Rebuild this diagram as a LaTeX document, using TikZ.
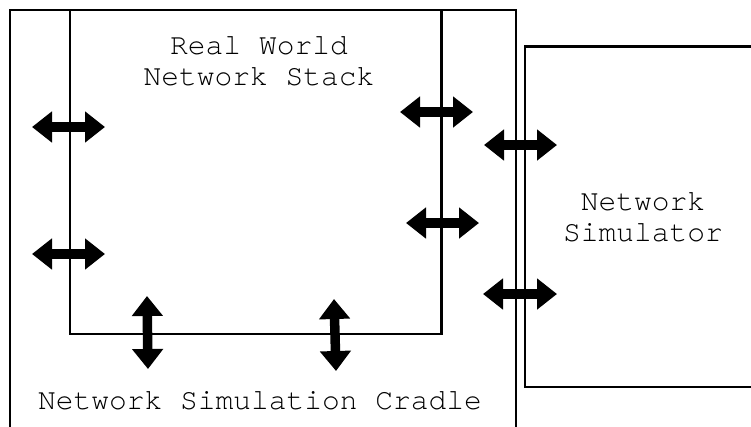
\documentclass[tikz,border=0pt]{standalone}
\usepackage{fontspec}
\setmonofont{TeX Gyre Cursor}
\usetikzlibrary{arrows.meta}
\begin{document}
\begin{tikzpicture}[x=1pt,y=-1pt,
  frame/.style={line width=2.4pt,line join=miter},
  label/.style={font=\ttfamily\fontsize{29.6}{31}\selectfont,inner sep=0pt,align=center},
  link/.style={line width=9.5pt,{Triangle[length=20pt,width=30pt]}-{Triangle[length=20pt,width=30pt]}}]
\useasboundingbox (0,0) rectangle (751,426);
\fill[white] (0,0) rectangle (751,426);

% cradle (open at the bottom), stack inside it, simulator to the right
\draw[frame] (10,430) -- (10,10) -- (516,10) -- (516,430);
\draw[frame] (70,10) -- (70,334) -- (441.5,334) -- (441.5,10);
\draw[frame] (770,46.5) -- (525,46.5) -- (525,387) -- (770,387);

\node[label] (stack) at (259,61) {Real World\\Network Stack};
\node[label] (sim) at (643,217.5) {Network\\Simulator};
\node[label,anchor=base] (cradle) at (260,409) {Network Simulation Cradle};

% interface end points
\coordinate (a1) at (32,127);   \coordinate (b1) at (105,127);
\coordinate (a2) at (32,254);   \coordinate (b2) at (105,254);
\coordinate (a3) at (400,112);  \coordinate (b3) at (473,112);
\coordinate (a4) at (406,223);  \coordinate (b4) at (479,223);
\coordinate (a5) at (484,145);  \coordinate (b5) at (557,145);
\coordinate (a6) at (483,294);  \coordinate (b6) at (557,294);
\coordinate (a7) at (147,296);  \coordinate (b7) at (148,369);
\coordinate (a8) at (334,299);  \coordinate (b8) at (336,371);

\foreach \i in {1,...,8} \draw[link] (a\i) -- (b\i);
\end{tikzpicture}
\end{document}
